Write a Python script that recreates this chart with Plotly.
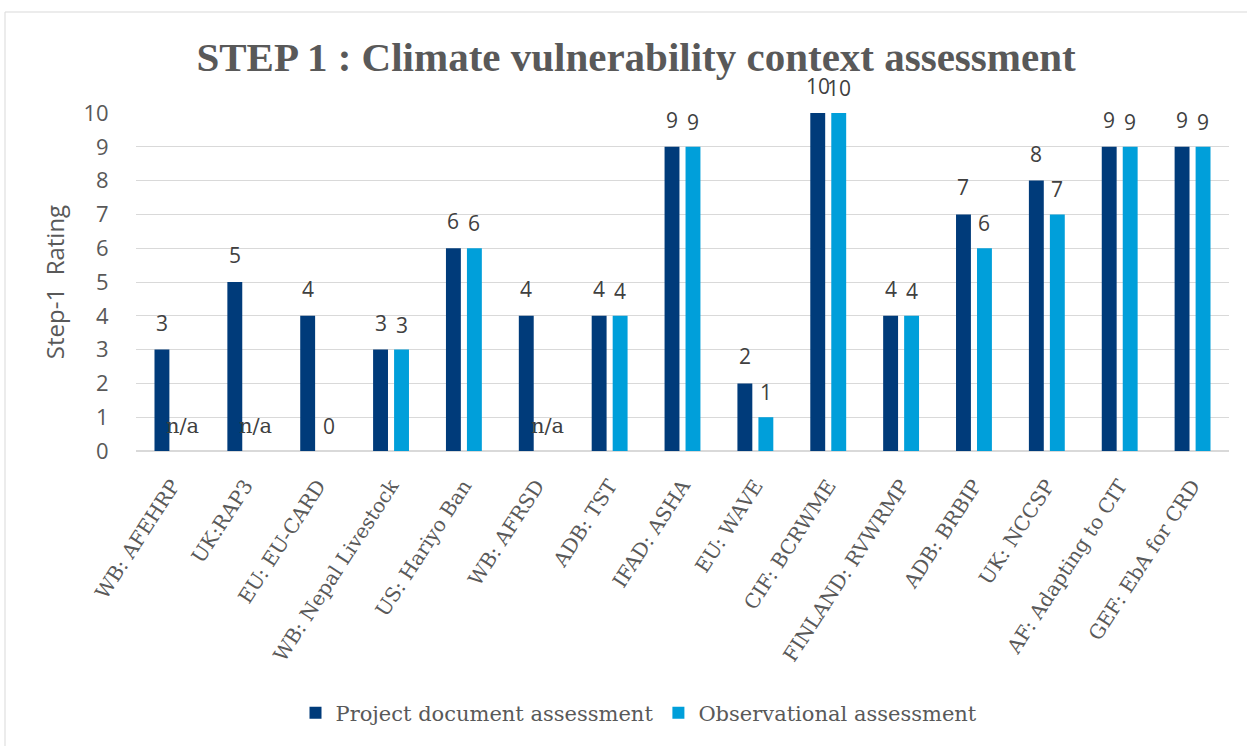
import plotly.graph_objects as go

categories = ["WB: AFEHRP", "UK:RAP3", "EU: EU-CARD", "WB: Nepal Livestock", "US: Hariyo Ban",
              "WB: AFRSD", "ADB: TST", "IFAD: ASHA", "EU: WAVE", "CIF: BCRWME",
              "FINLAND: RVWRMP", "ADB: BRBIP", "UK: NCCSP", "AF: Adapting to CIT", "GEF: EbA for CRD"]
project_doc = [3, 5, 4, 3, 6, 4, 4, 9, 2, 10, 4, 7, 8, 9, 9]
observational = [None, None, 0, 3, 6, None, 4, 9, 1, 10, 4, 6, 7, 9, 9]
y_ticks = [0, 1, 2, 3, 4, 5, 6, 7, 8, 9, 10]

DARK = "#003B7A"
LIGHT = "#009FDA"
GRAY = "#595959"
LABEL = "#404040"
SANS = "Open Sans, Segoe UI, sans-serif"
SERIF = "DejaVu Serif, Cambria, serif"
TSERIF = "Liberation Serif, Cambria, serif"

fig = go.Figure()
fig.add_trace(go.Bar(name="Project document assessment", x=categories, y=project_doc,
                     marker=dict(color=DARK, line=dict(width=0))))
fig.add_trace(go.Bar(name="Observational assessment", x=categories,
                     y=[v if v is not None else 0 for v in observational],
                     marker=dict(color=LIGHT, line=dict(width=0))))

annotations = []
for c, v in zip(categories, project_doc):
    annotations.append(dict(x=c, y=v, xref="x", yref="y", text=str(v), showarrow=False,
                            xshift=-10.5, yshift=27, yanchor="middle",
                            font=dict(family=SANS, size=21, color=LABEL)))
for c, v in zip(categories, observational):
    txt = "n/a" if v is None else str(v)
    fam = SERIF if v is None else SANS
    annotations.append(dict(x=c, y=v if v is not None else 0, xref="x", yref="y", text=txt,
                            showarrow=False, xshift=10.5, yshift=25, yanchor="middle",
                            font=dict(family=fam, size=21, color=LABEL)))

fig.update_layout(
    width=1247, height=746,
    margin=dict(l=136, r=18, t=113, b=295),
    paper_bgcolor="white", plot_bgcolor="white",
    barmode="group", bargap=0.424, bargroupgap=0.29,
    title=dict(text="<b>STEP 1 : Climate vulnerability context assessment</b>",
               x=636 / 1247, xanchor="center", y=1 - 57 / 746, yanchor="middle",
               font=dict(family=TSERIF, size=41, color=GRAY)),
    xaxis=dict(type="category", tickangle=-57, showgrid=False, showline=True,
               linecolor="#D9D9D9", linewidth=1, ticks="outside", ticklen=14,
               tickcolor="rgba(0,0,0,0)",
               tickfont=dict(family=SERIF, size=20, color=GRAY)),
    yaxis=dict(range=[0, 10], tickvals=y_ticks, showgrid=True, gridcolor="#D9D9D9",
               gridwidth=1, zeroline=True, zerolinecolor="#D9D9D9", showline=False,
               ticks="outside", ticklen=22, tickcolor="rgba(0,0,0,0)",
               tickfont=dict(family=SANS, size=22, color=GRAY),
               title=dict(text="Step-1  Rating", standoff=12,
                          font=dict(family=SANS, size=24, color=GRAY))),
    legend=dict(orientation="h", x=(639 - 136) / 1093, xanchor="center", y=(451 - 713) / 338,
                yanchor="middle", font=dict(family=SERIF, size=21, color=GRAY),
                itemwidth=30, tracegroupgap=0),
    annotations=annotations,
    showlegend=True,
)

x0 = (5 - 136) / 1093
y0 = (451 - 12) / 338
fig.add_shape(type="line", xref="paper", yref="paper", x0=x0, x1=1.02, y0=y0, y1=y0,
              line=dict(color="#D9D9D9", width=1))
fig.add_shape(type="line", xref="paper", yref="paper", x0=x0, x1=x0, y0=y0, y1=-0.9,
              line=dict(color="#D9D9D9", width=1))

fig.write_html("out.html", config={"displayModeBar": False},
               post_script="document.body.style.margin='0px';")
